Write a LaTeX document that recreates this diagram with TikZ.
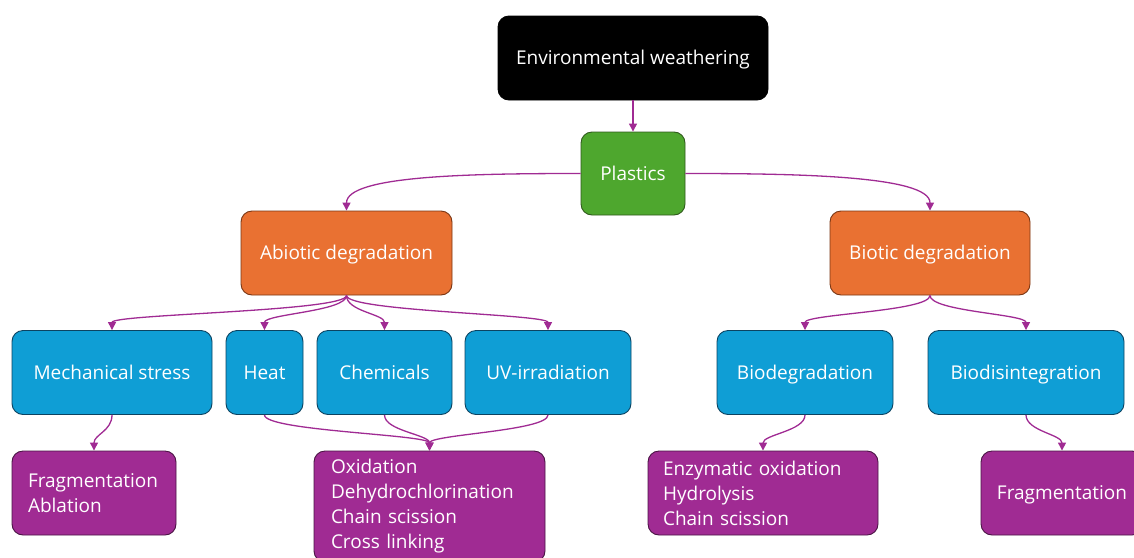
\documentclass[tikz,border=0pt]{standalone}
\usepackage{fontspec}
\setsansfont{Open Sans}
\usetikzlibrary{arrows.meta}
\definecolor{leafgreen}{HTML}{4EA72E}
\definecolor{leafdark}{HTML}{2F5A1C}
\definecolor{rust}{HTML}{E97132}
\definecolor{rustdark}{HTML}{7A3613}
\definecolor{sky}{HTML}{0F9ED5}
\definecolor{skydark}{HTML}{0C4361}
\definecolor{plum}{HTML}{A02B93}
\definecolor{plumdark}{HTML}{4A1444}
\begin{document}
\begin{tikzpicture}[x=1pt,y=-1pt,
  box/.style={draw,line width=0.9pt,rounded corners=11pt,text=white,
    font=\sffamily\fontsize{19}{25}\selectfont,minimum height=84pt,inner sep=0pt},
  one line/.style={text height=15pt,text depth=1.5pt},
  blue box/.style={box,one line,fill=sky,draw=skydark},
  list box/.style={box,fill=plum,draw=plumdark,align=left},
  link/.style={draw=plum,line width=1.3pt,-{Triangle[length=8pt,width=8pt]}},
  drop/.style={out=-90,in=90,out distance=16pt,in distance=16pt}]
  \clip (0,0) rectangle (1134,557);
  % top of the tree
  \node[box,one line,fill=black,draw=black,minimum width=270pt] (env) at (633,58) {Environmental weathering};
  \node[box,one line,fill=leafgreen,draw=leafdark,minimum width=104pt,minimum height=83pt] (plastic) at (633,173.5) {Plastics};
  \node[box,one line,fill=rust,draw=rustdark,minimum width=211pt] (abio) at (346.5,253) {Abiotic degradation};
  \node[box,one line,fill=rust,draw=rustdark,minimum width=200pt] (bio) at (930,253) {Biotic degradation};
  % second level
  \node[blue box,minimum width=200pt] (mech) at (112,372.5) {Mechanical stress};
  \node[blue box,minimum width=77pt] (heat) at (264.5,372.5) {Heat};
  \node[blue box,minimum width=135pt] (chem) at (384.5,372.5) {Chemicals};
  \node[blue box,minimum width=166pt] (uv) at (548,372.5) {UV-irradiation};
  \node[blue box,minimum width=176pt] (biodeg) at (805,372.5) {Biodegradation};
  \node[blue box,minimum width=196pt] (biodis) at (1026,372.5) {Biodisintegration};
  % outcomes
  \node[list box,inner xsep=16pt,text width=132pt] (fragA) at (94,493) {Fragmentation\\Ablation};
  \node[list box,inner xsep=17pt,text width=197pt,minimum height=111pt] (oxi) at (429.5,506.5)
    {Oxidation\\Dehydrochlorination\\Chain scission\\Cross linking};
  \node[list box,inner xsep=15pt,text width=200pt] (enz) at (763,493)
    {Enzymatic oxidation\\Hydrolysis\\Chain scission};
  \node[box,one line,fill=plum,draw=plumdark,minimum width=162pt] (fragB) at (1062,493) {Fragmentation};
  % connectors
  \draw[link] (env) -- (plastic);
  \draw[link] (plastic.west) to[out=180,in=90,out distance=110pt,in distance=35pt] (abio.north);
  \draw[link] (plastic.east) to[out=0,in=90,out distance=110pt,in distance=35pt] (bio.north);
  \foreach \kid in {mech,heat,chem,uv}
    \draw[link] (abio.south) to[drop] (\kid.north);
  \foreach \kid in {biodeg,biodis}
    \draw[link] (bio.south) to[drop] (\kid.north);
  \foreach \src in {heat,chem,uv}
    \draw[link] (\src.south) to[drop] (oxi.north);
  \draw[link] (mech.south) to[drop] (fragA.north);
  \draw[link] (biodeg.south) to[drop] (enz.north);
  \draw[link] (biodis.south) to[drop] (fragB.north);
\end{tikzpicture}
\end{document}
